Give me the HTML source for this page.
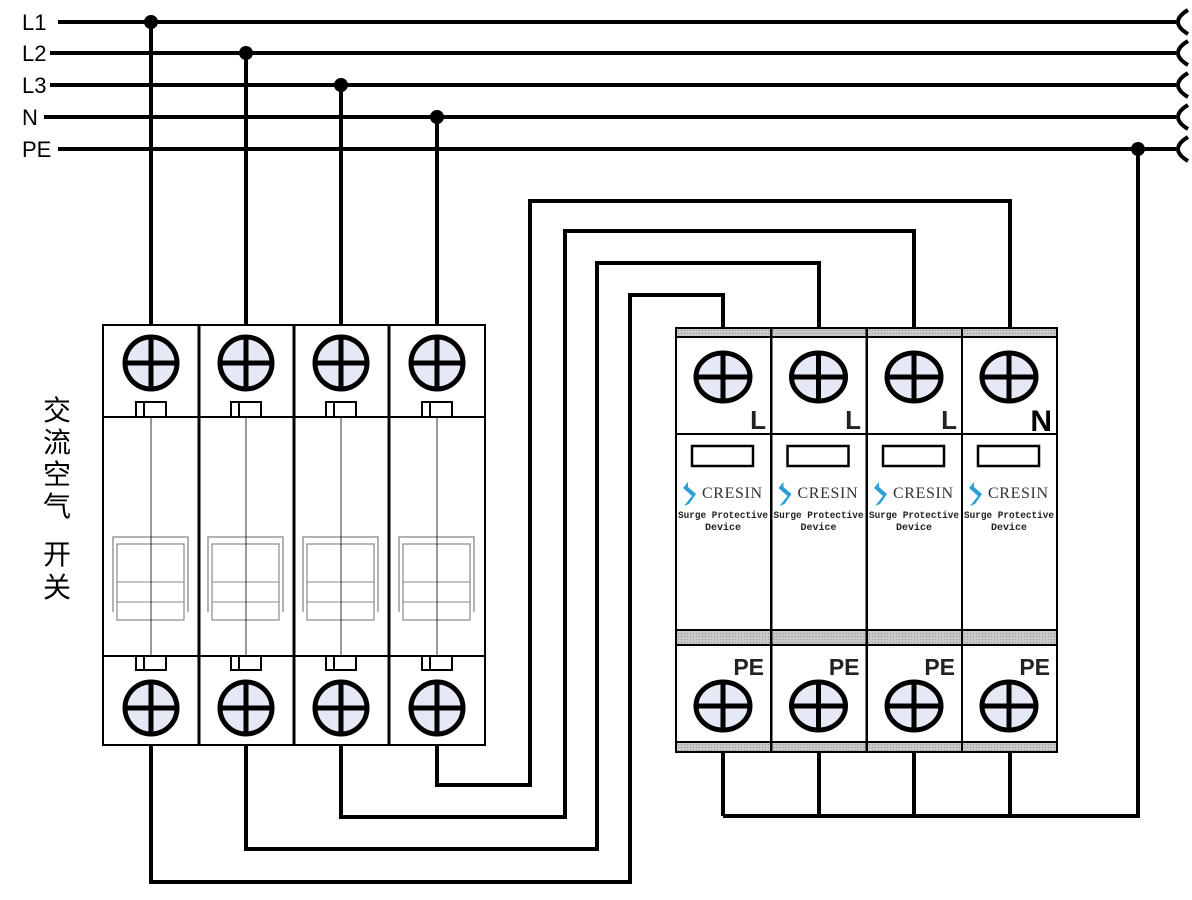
<!DOCTYPE html>
<html><head><meta charset="utf-8"><style>body{margin:0;background:#fff}svg{display:block}</style></head><body>
<svg width="1192" height="900" viewBox="0 0 1192 900" xmlns="http://www.w3.org/2000/svg" font-family="Liberation Sans, sans-serif">
<defs>
<g id="term"><circle r="26" fill="#e4e9f5" stroke="#000" stroke-width="5"/><line x1="-26" y1="0" x2="26" y2="0" stroke="#000" stroke-width="5"/><line x1="0" y1="-26" x2="0" y2="26" stroke="#000" stroke-width="5"/></g>
<g id="sterm"><ellipse rx="27" ry="24" fill="#e4e9f5" stroke="#000" stroke-width="5"/><line x1="-27" y1="0" x2="27" y2="0" stroke="#000" stroke-width="5"/><line x1="0" y1="-24" x2="0" y2="24" stroke="#000" stroke-width="5"/></g>
<pattern id="hatch" width="3" height="3" patternUnits="userSpaceOnUse"><rect width="3" height="3" fill="#c8c8c8"/><rect width="1" height="1" fill="#999"/></pattern>
</defs>
<g font-size="22" fill="#000"><text x="22" y="30">L1</text><text x="22" y="61">L2</text><text x="22" y="93">L3</text><text x="22" y="125">N</text><text x="22" y="157">PE</text></g>
<g stroke="#000" stroke-width="4" fill="none">
<line x1="58" y1="22" x2="1176" y2="22"/><line x1="50" y1="53" x2="1176" y2="53"/><line x1="50" y1="85" x2="1176" y2="85"/><line x1="44" y1="117" x2="1176" y2="117"/><line x1="58" y1="149" x2="1176" y2="149"/>
<path d="M1188 10 Q1168 22 1188 34"/><path d="M1188 41 Q1168 53 1188 65"/><path d="M1188 73 Q1168 85 1188 97"/><path d="M1188 105 Q1168 117 1188 129"/><path d="M1188 137 Q1168 149 1188 161"/>
<line x1="151" y1="22" x2="151" y2="325"/><line x1="246" y1="53" x2="246" y2="325"/><line x1="341" y1="85" x2="341" y2="325"/><line x1="437" y1="117" x2="437" y2="325"/>
<polyline points="437,745 437,785 530,785 530,201 1010,201 1010,328"/>
<polyline points="341,745 341,817 565,817 565,231 914,231 914,328"/>
<polyline points="246,745 246,849 597,849 597,263 819,263 819,328"/>
<polyline points="151,745 151,882 630,882 630,295 723,295 723,328"/>
<line x1="723" y1="752" x2="723" y2="816"/><line x1="819" y1="752" x2="819" y2="816"/><line x1="914" y1="752" x2="914" y2="816"/><line x1="1010" y1="752" x2="1010" y2="816"/>
<polyline points="723,816 1138,816 1138,149"/>
</g>
<g fill="#000"><circle cx="151" cy="22" r="7"/><circle cx="246" cy="53" r="7"/><circle cx="341" cy="85" r="7"/><circle cx="437" cy="117" r="7"/><circle cx="1138" cy="149" r="7"/></g>
<g stroke="#000" stroke-width="2" fill="#fff">
<rect x="103" y="325" width="382" height="420"/>
<line x1="103" y1="417" x2="485" y2="417"/><line x1="103" y1="656" x2="485" y2="656"/>
<line x1="199" y1="325" x2="199" y2="745" stroke-width="3"/><line x1="294" y1="325" x2="294" y2="745" stroke-width="3"/><line x1="389" y1="325" x2="389" y2="745" stroke-width="3"/>
</g>
<g id="bpole">
<rect x="136" y="402" width="30" height="15" fill="#fff" stroke="#000" stroke-width="2"/><line x1="144" y1="402" x2="144" y2="417" stroke="#000" stroke-width="2"/>
<rect x="136" y="656" width="30" height="14" fill="#fff" stroke="#000" stroke-width="2"/><line x1="144" y1="656" x2="144" y2="670" stroke="#000" stroke-width="2"/>
<path d="M113 612 V537 H188 V612" fill="none" stroke="#999" stroke-width="1.5"/>
<rect x="117" y="544" width="67" height="76" fill="none" stroke="#888" stroke-width="1.2"/>
<line x1="117" y1="582" x2="184" y2="582" stroke="#888" stroke-width="1"/><line x1="117" y1="602" x2="184" y2="602" stroke="#888" stroke-width="1"/>
<line x1="151" y1="417" x2="151" y2="656" stroke="#000" stroke-width="0.8"/>
<use href="#term" x="151" y="363"/><use href="#term" x="151" y="708"/>
</g>
<use href="#bpole" x="95"/><use href="#bpole" x="190"/><use href="#bpole" x="286"/>
<g font-family="Noto Sans CJK SC, sans-serif" font-size="28" text-anchor="middle"><text x="57" y="420">交</text><text x="57" y="452">流</text><text x="57" y="484">空</text><text x="57" y="516">气</text><text x="57" y="564">开</text><text x="57" y="597">关</text></g>
<g id="spole">
<rect x="676" y="328" width="95" height="424" fill="#fff" stroke="#000" stroke-width="2"/>
<rect x="677" y="329" width="93" height="8" fill="url(#hatch)"/>
<rect x="677" y="631" width="93" height="14" fill="url(#hatch)"/>
<rect x="677" y="743" width="93" height="8" fill="url(#hatch)"/>
<g stroke="#000" stroke-width="2"><line x1="676" y1="337" x2="771" y2="337"/><line x1="676" y1="434" x2="771" y2="434"/><line x1="676" y1="630" x2="771" y2="630"/><line x1="676" y1="645" x2="771" y2="645"/><line x1="676" y1="742" x2="771" y2="742"/></g>
<rect x="692" y="446" width="61" height="20" fill="#fff" stroke="#000" stroke-width="2.5"/>
<path d="M688 482 l-5 6 9 8 -8 10 5 -2 7 -10 -8 -7z" fill="#2a9fd8"/>
<text x="702" y="498" font-family="Liberation Serif, serif" font-size="16" fill="#333" textLength="60">CRESIN</text>
<text x="723" y="518" font-family="Liberation Mono, monospace" font-size="10" text-anchor="middle" font-weight="bold" fill="#222" textLength="90" lengthAdjust="spacingAndGlyphs">Surge Protective</text>
<text x="723" y="530" font-family="Liberation Mono, monospace" font-size="10" text-anchor="middle" font-weight="bold" fill="#222">Device</text>
<text x="764" y="675" font-size="23" font-weight="bold" text-anchor="end" fill="#222">PE</text>
<use href="#sterm" x="723" y="377"/><use href="#sterm" x="723" y="706"/>
</g>
<use href="#spole" x="95.5"/><use href="#spole" x="191"/><use href="#spole" x="286"/>
<g font-size="26" font-weight="bold" fill="#222" text-anchor="end"><text x="766" y="429">L</text><text x="861" y="429">L</text><text x="957" y="429">L</text><text x="1052" y="431" fill="#000" font-size="30">N</text></g>
</svg>
</body></html>
